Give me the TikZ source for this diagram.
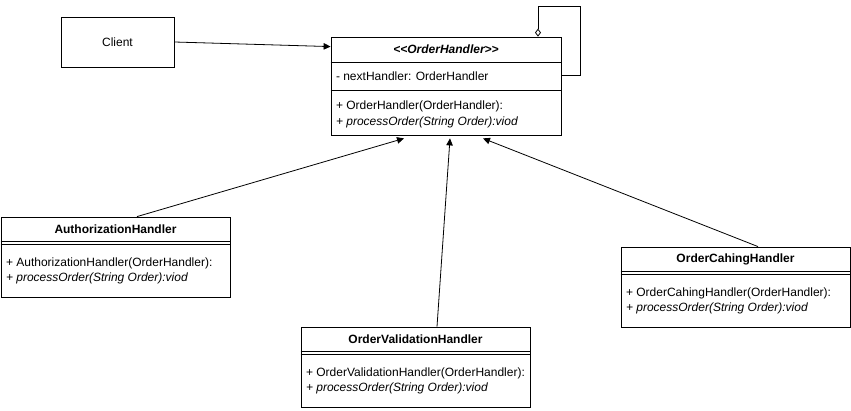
\documentclass[tikz,border=0pt]{standalone}
\usepackage{fontspec}
\setmainfont{Liberation Sans}
\usepackage{tikz}
\usetikzlibrary{arrows.meta, positioning}

\begin{document}
\begin{tikzpicture}[x=1pt, y=-1pt, line width=0.8pt,
  box/.style={draw, rectangle, inner sep=0pt},
  title/.style={font=\fontsize{12}{14}\selectfont\bfseries, inner sep=0pt},
  member/.style={font=\fontsize{12}{14}\selectfont, anchor=west, inner sep=0pt},
  inherit/.style={-{Triangle[length=7pt,width=6.5pt]}},
  assoc/.style={-{Triangle[length=7pt,width=6.5pt]}},
  aggr/.style={-{Diamond[open,length=8pt,width=6pt]}}]
  \useasboundingbox (0,0) rectangle (851,411);
  % client
  \node[box, minimum width=113pt, minimum height=50pt] (client) at (117.5,42) {};
  \node[member, anchor=center] (clientText) at (client) {Client};
  % abstract handler
  \node[box, minimum width=230pt, minimum height=98pt] (handler) at (446,86) {};
  \node[title] (handlerTitle) at ([yshift=-13pt]handler.north) {\itshape <\kern0pt<OrderHandler>\kern0pt>};
  \draw ([yshift=-26pt]handler.north west) -- ([yshift=-26pt]handler.north east);
  \node[member] (handlerAttr) at ([xshift=5pt,yshift=-40pt]handler.north west) {- nextHandler: OrderHandler};
  \draw ([yshift=-54pt]handler.north west) -- ([yshift=-54pt]handler.north east);
  \node[member] (handlerCtor) at ([xshift=5pt,yshift=-70pt]handler.north west) {+ OrderHandler(OrderHandler):};
  \node[member] (handlerProc) at ([xshift=5pt,yshift=-86pt]handler.north west) {\itshape + processOrder(String Order):viod};
  % authorization handler
  \node[box, minimum width=229pt, minimum height=80pt] (auth) at (115.5,257) {};
  \node[title] (authTitle) at ([yshift=-12.5pt]auth.north) {AuthorizationHandler};
  \draw ([yshift=-24.5pt]auth.north west) -- ([yshift=-24.5pt]auth.north east);
  \draw ([yshift=-27.5pt]auth.north west) -- ([yshift=-27.5pt]auth.north east);
  \node[member] (authCtor) at ([xshift=5pt,yshift=-47pt]auth.north west) {+ AuthorizationHandler(OrderHandler):};
  \node[member] (authProc) at ([xshift=5pt,yshift=-62pt]auth.north west) {\itshape + processOrder(String Order):viod};
  % validation handler
  \node[box, minimum width=229pt, minimum height=80pt] (valid) at (415.5,367) {};
  \node[title] (validTitle) at ([yshift=-12.5pt]valid.north) {OrderValidationHandler};
  \draw ([yshift=-24.5pt]valid.north west) -- ([yshift=-24.5pt]valid.north east);
  \draw ([yshift=-27.5pt]valid.north west) -- ([yshift=-27.5pt]valid.north east);
  \node[member] (validCtor) at ([xshift=5pt,yshift=-47pt]valid.north west) {+ OrderValidationHandler(OrderHandler):};
  \node[member] (validProc) at ([xshift=5pt,yshift=-62pt]valid.north west) {\itshape + processOrder(String Order):viod};
  % caching handler
  \node[box, minimum width=229pt, minimum height=80pt] (caching) at (735.5,287) {};
  \node[title] (cachingTitle) at ([yshift=-12.5pt]caching.north) {OrderCahingHandler};
  \draw ([yshift=-24.5pt]caching.north west) -- ([yshift=-24.5pt]caching.north east);
  \draw ([yshift=-27.5pt]caching.north west) -- ([yshift=-27.5pt]caching.north east);
  \node[member] (cachingCtor) at ([xshift=5pt,yshift=-47pt]caching.north west) {+ OrderCahingHandler(OrderHandler):};
  \node[member] (cachingProc) at ([xshift=5pt,yshift=-62pt]caching.north west) {\itshape + processOrder(String Order):viod};
  % connectors
  \draw[assoc] (client.east) -- ([yshift=-10pt]handler.north west);
  \draw[aggr] ([yshift=11pt]handler.east) -| ++(19,-69) -| ([xshift=92pt]handler.north);
  \draw[inherit] ([xshift=21.5pt]auth.north) -- ([xshift=-42pt,yshift=-3pt]handler.south);
  \draw[inherit] ([xshift=21.5pt]valid.north) -- ([xshift=4pt,yshift=-3pt]handler.south);
  \draw[inherit] ([xshift=22.5pt]caching.north) -- ([xshift=37pt,yshift=-3pt]handler.south);
\end{tikzpicture}
\end{document}
